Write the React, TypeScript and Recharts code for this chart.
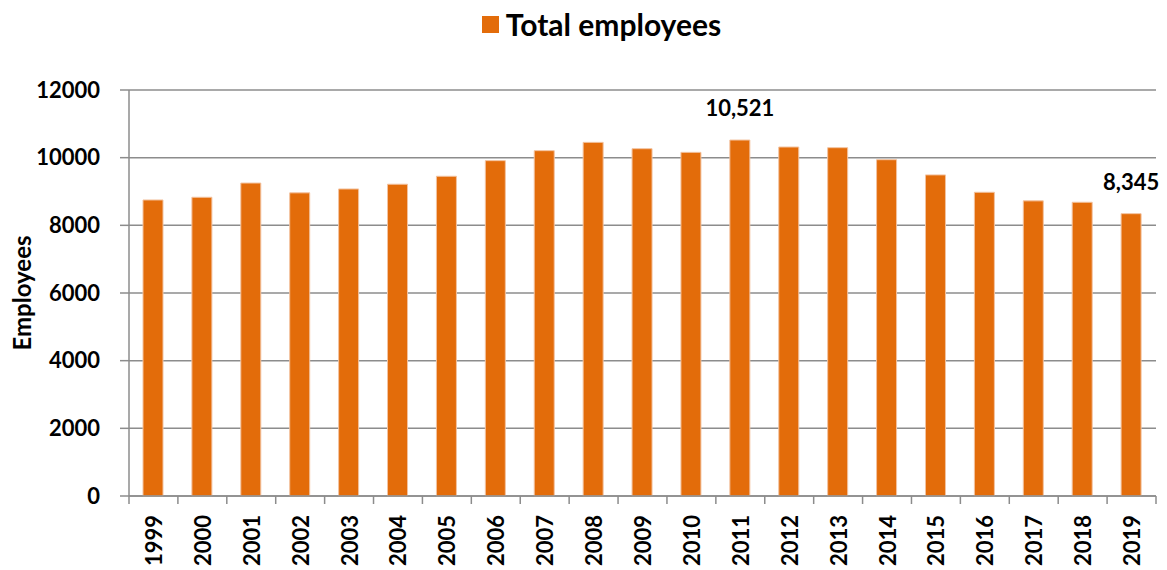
import { BarChart, Bar, XAxis, YAxis, CartesianGrid, Legend, LabelList } from 'recharts';

const years = ['1999', '2000', '2001', '2002', '2003', '2004', '2005', '2006', '2007', '2008', '2009',
    '2010', '2011', '2012', '2013', '2014', '2015', '2016', '2017', '2018', '2019'];
const employees = [8750, 8830, 9250, 8960, 9075, 9215, 9450, 9912, 10207, 10452, 10265,
    10157, 10521, 10315, 10295, 9940, 9490, 8977, 8723, 8682, 8345];
const labelledYears = ['2011', '2019'];
const yTicks = [0, 2000, 4000, 6000, 8000, 10000, 12000];

const data = years.map((year, i) => ({ year, employees: employees[i] }));

const W = 1167;
const H = 570;
const MARGIN = { top: 50, right: 11, bottom: 0, left: 0 };
const Y_AXIS_W = 129;
const FONT = 'Lato, "Open Sans", sans-serif';
const ORANGE = '#E36C0A';
const GRID = '#8C8C8C';

// tick marks sit on the category boundaries, labels on the centres
const step = (W - MARGIN.left - MARGIN.right - Y_AXIS_W) / years.length;

function YearTick(props: any) {
    const { x, y, payload, index } = props;
    return (
        <g>
            <line x1={x - step / 2} x2={x - step / 2} y1={y} y2={y + 8} stroke={GRID} strokeWidth={1.5} />
            {index === years.length - 1 && (
                <line x1={x + step / 2} x2={x + step / 2} y1={y} y2={y + 8} stroke={GRID} strokeWidth={1.5} />
            )}
            <text
                x={x}
                y={y + 19}
                transform={`rotate(-90, ${x}, ${y + 19})`}
                textAnchor="end"
                dominantBaseline="central"
                fontFamily={FONT}
                fontWeight={700}
                fontSize={22}
                fill="#000"
            >
                {payload.value}
            </text>
        </g>
    );
}

function ValueLabel(props: any) {
    const { x, y, width, value, index } = props;
    if (!labelledYears.includes(years[index])) return null;
    return (
        <text
            x={x + width / 2}
            y={y - 24}
            textAnchor="middle"
            fontFamily={FONT}
            fontWeight={700}
            fontSize={22}
            fill="#000"
        >
            {Number(value).toLocaleString('en-US')}
        </text>
    );
}

function TopLegend() {
    return (
        <div style={{ display: 'flex', justifyContent: 'center', alignItems: 'center', paddingLeft: 36, fontFamily: FONT, fontWeight: 700, fontSize: 30, color: '#000' }}>
            <span style={{ display: 'inline-block', width: 17, height: 17, background: ORANGE, marginRight: 7 }} />
            Total employees
        </div>
    );
}

export default function App() {
    return (
        <div style={{ position: 'absolute', left: 0, top: 0, background: '#fff' }}>
            <BarChart width={W} height={H} data={data} margin={MARGIN}>
                <CartesianGrid vertical={false} stroke={GRID} strokeWidth={1.5} />
                <Legend
                    verticalAlign="top"
                    content={<TopLegend />}
                    wrapperStyle={{ top: 6, left: 0, width: W, height: 40 }}
                />
                <XAxis
                    dataKey="year"
                    interval={0}
                    height={74}
                    stroke={GRID}
                    strokeWidth={1.5}
                    tickLine={false}
                    tickSize={0}
                    tickMargin={0}
                    tick={<YearTick />}
                />
                <YAxis
                    width={Y_AXIS_W}
                    domain={[0, 12000]}
                    ticks={yTicks}
                    interval={0}
                    stroke={GRID}
                    strokeWidth={1.5}
                    tickSize={9}
                    tickMargin={20}
                    tick={{ fill: '#000', fontFamily: FONT, fontWeight: 700, fontSize: 22 }}
                    label={{
                        value: 'Employees',
                        angle: -90,
                        position: 'insideLeft',
                        offset: 22,
                        style: { textAnchor: 'middle', fill: '#000', fontFamily: FONT, fontWeight: 700, fontSize: 24 },
                    }}
                />
                <Bar dataKey="employees" fill={ORANGE} stroke="#F3C3A0" strokeWidth={1} barSize={20} isAnimationActive={false}>
                    <LabelList dataKey="employees" content={<ValueLabel />} />
                </Bar>
            </BarChart>
        </div>
    );
}
